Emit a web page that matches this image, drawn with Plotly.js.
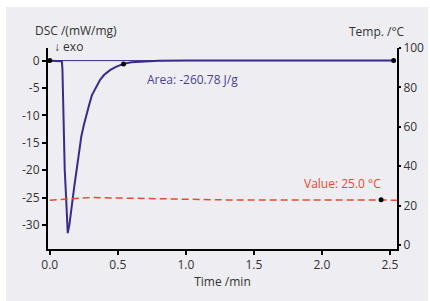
<!DOCTYPE html>
<html><head><meta charset="utf-8">
<script src="https://cdn.plot.ly/plotly-3.0.1.min.js"></script>
<style>
html,body{margin:0;padding:0;background:#fff;width:430px;height:301px;overflow:hidden;}
#chart{position:absolute;left:6px;top:7px;width:422px;height:294px;}
</style></head>
<body><div id="chart"></div>
<script>
// DSC curve (mW/mg) vs time (min)
const dscTime = [0, 0.05, 0.089, 0.093, 0.097, 0.103, 0.11, 0.12, 0.127, 0.132, 0.144, 0.155, 0.168, 0.18, 0.2, 0.215, 0.232, 0.25, 0.267, 0.29, 0.31, 0.34, 0.37, 0.4, 0.445, 0.49, 0.542, 0.6, 0.7, 0.8, 1.0, 1.5, 2.0, 2.527];
const dscValue = [-0.05, -0.05, -0.1, -1.5, -6, -14.5, -20, -25, -29, -31.5, -30, -27.5, -25, -23, -19.5, -16.5, -13.8, -11.8, -10, -8, -6.3, -4.8, -3.5, -2.6, -1.7, -1.1, -0.6, -0.3, -0.1, -0.02, 0, 0, 0, 0];
// integration baseline
const baseTime = [0, 2.527];
const baseValue = [0, 0];
// evaluation points on DSC
const dscPtTime = [0, 0.542, 2.527];
const dscPtValue = [0, -0.6, 0];
// temperature (°C)
const tempTime = [0, 0.1, 0.2, 0.3, 0.4, 0.6, 0.8, 1.0, 1.3, 1.6, 2.0, 2.5, 2.55];
const tempValue = [22.8, 23.3, 23.8, 24.1, 24.0, 23.7, 23.3, 23.1, 22.9, 22.85, 22.8, 22.8, 22.8];
const tempPtTime = [2.435];
const tempPtValue = [23.0];
// tick labels
const xTicks = [0, 0.5, 1.0, 1.5, 2.0, 2.5];
const xTickText = ['0.0', '0.5', '1.0', '1.5', '2.0', '2.5'];
const yTicks = [0, -5, -10, -15, -20, -25, -30];
const yTickText = ['0', '-5', '-10', '-15', '-20', '-25', '-30'];
const y2Ticks = [0, 20, 40, 60, 80, 100];
const y2TickText = ['0', '20', '40', '60', '80', '100'];

const purple = '#3A2A8C';
const red = '#E8492E';
const font = 'Open Sans, Noto Sans, sans-serif';

const traces = [
  {x: baseTime, y: baseValue, mode: 'lines', line: {color: purple, width: 1}, yaxis: 'y', hoverinfo: 'skip'},
  {x: dscTime, y: dscValue, mode: 'lines', line: {color: purple, width: 2}, yaxis: 'y'},
  {x: tempTime, y: tempValue, mode: 'lines', line: {color: red, width: 1.5, dash: '7px,4px'}, yaxis: 'y2'},
  {x: dscPtTime, y: dscPtValue, mode: 'markers', marker: {color: '#000', size: 5}, yaxis: 'y'},
  {x: tempPtTime, y: tempPtValue, mode: 'markers', marker: {color: '#000', size: 5}, yaxis: 'y2'}
];

const axisCommon = {
  showline: true, linecolor: '#000', linewidth: 2,
  ticks: 'outside', tickcolor: '#000', tickwidth: 2,
  showgrid: false, zeroline: false, tickmode: 'array',
  tickfont: {family: font, size: 12, color: '#333'}
};

const layout = {
  width: 422, height: 294,
  paper_bgcolor: '#EEEDF2', plot_bgcolor: '#EEEDF2',
  margin: {l: 41.5, r: 30.5, t: 41, b: 52},
  showlegend: false,
  font: {family: font, size: 12, color: '#333'},
  xaxis: Object.assign({}, axisCommon, {
    range: [-0.013, 2.552], tickvals: xTicks, ticktext: xTickText, ticklen: 4,
    title: {text: 'Time /min', font: {family: font, size: 12, color: '#333'}, standoff: 4}
  }),
  yaxis: Object.assign({}, axisCommon, {
    range: [-34.4, 2.3], tickvals: yTicks, ticktext: yTickText, ticklen: 4
  }),
  yaxis2: Object.assign({}, axisCommon, {
    range: [-2, 100], tickvals: y2Ticks, ticktext: y2TickText, ticklen: 2, overlaying: 'y', side: 'right'
  }),
  annotations: [
    {text: 'DSC /(mW/mg)', xref: 'paper', yref: 'paper', x: 0.079, y: 1.085, showarrow: false, xanchor: 'center', yanchor: 'middle', font: {family: font, size: 12, color: '#333'}},
    {text: '↓ exo', xref: 'paper', yref: 'paper', x: 0.012, y: 1.006, showarrow: false, xanchor: 'left', yanchor: 'middle', font: {family: font, size: 12, color: '#333'}},
    {text: 'Temp. /°C', xref: 'paper', yref: 'paper', x: 0.944, y: 1.08, showarrow: false, xanchor: 'center', yanchor: 'middle', font: {family: font, size: 12, color: '#333'}},
    {text: 'Area: -260.78 J/g', xref: 'paper', yref: 'paper', x: 0.413, y: 0.844, showarrow: false, xanchor: 'center', yanchor: 'middle', font: {family: font, size: 12, color: '#4B3F9B'}},
    {text: 'Value: 25.0 °C', xref: 'paper', yref: 'paper', x: 0.845, y: 0.327, showarrow: false, xanchor: 'center', yanchor: 'middle', font: {family: font, size: 12, color: red}}
  ]
};

Plotly.newPlot('chart', traces, layout, {staticPlot: true, displayModeBar: false});
</script></body></html>
